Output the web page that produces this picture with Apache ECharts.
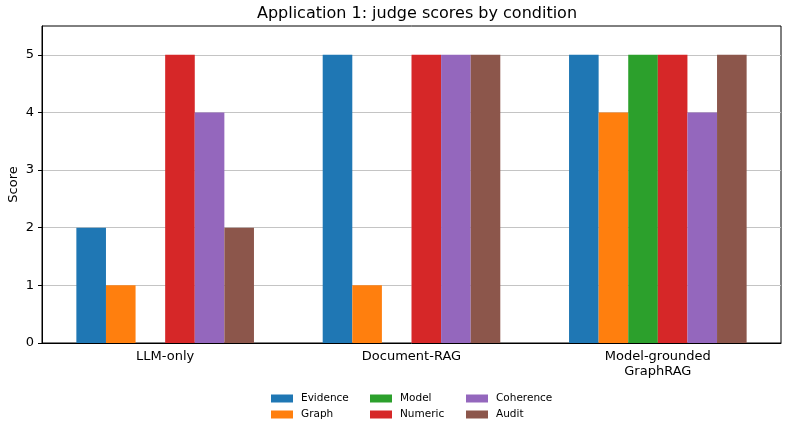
<!DOCTYPE html>
<html>
<head>
<meta charset="utf-8">
<script src="https://cdn.jsdelivr.net/npm/echarts@6/dist/echarts.min.js"></script>
<style>html,body{margin:0;padding:0;background:#fff;}#c{width:789px;height:426px;}</style>
</head>
<body>
<div id="c"></div>
<script>
const categories = ['LLM-only', 'Document-RAG', 'Model-grounded\nGraphRAG'];
const seriesNames = ['Evidence', 'Graph', 'Model', 'Numeric', 'Coherence', 'Audit'];
const evidence = [2, 5, 5];
const graph = [1, 1, 4];
const model = [0, 0, 5];
const numeric = [5, 5, 5];
const coherence = [4, 5, 4];
const audit = [2, 5, 5];
const yTicks = [0, 1, 2, 3, 4, 5];
const colors = ['#1f77b4', '#ff7f0e', '#2ca02c', '#d62728', '#9467bd', '#8c564b'];
const values = [evidence, graph, model, numeric, coherence, audit];

const font = 'DejaVu Sans';
const chart = echarts.init(document.getElementById('c'), null, {renderer: 'canvas'});
const legendCols = [[0, 1], [2, 3], [4, 5]];
const legendLefts = [271, 370, 466];
chart.setOption({
  animation: false,
  backgroundColor: '#fff',
  color: colors,
  textStyle: {fontFamily: font},
  title: {
    text: 'Application 1: judge scores by condition',
    left: 412, top: 1, textAlign: 'center',
    textStyle: {fontFamily: font, fontSize: 16, fontWeight: 'normal', color: '#000'}
  },
  legend: legendCols.map((idx, i) => ({
    data: idx.map(k => seriesNames[k]),
    orient: 'vertical',
    left: legendLefts[i], top: 393, padding: 0,
    itemWidth: 22, itemHeight: 8, itemGap: 5,
    icon: 'rect',
    textStyle: {fontFamily: font, fontSize: 10.5, color: '#000', padding: [0, 0, 0, 3]}
  })),
  grid: {left: 42, right: 8, top: 26, bottom: 83, show: true, borderColor: '#000', borderWidth: 1, containLabel: false, outerBoundsMode: 'none'},
  xAxis: {
    type: 'category',
    data: categories,
    axisLine: {lineStyle: {color: '#000', width: 1}},
    axisTick: {alignWithLabel: true, length: 4, lineStyle: {color: '#000'}},
    axisLabel: {fontFamily: font, fontSize: 13, color: '#000', margin: 6, lineHeight: 15}
  },
  yAxis: {
    type: 'value', min: 0, max: 5.5, interval: 1,
    name: 'Score', nameLocation: 'middle', nameGap: 22, nameMoveOverlap: false,
    nameTextStyle: {fontFamily: font, fontSize: 13, color: '#000'},
    axisLine: {show: true, lineStyle: {color: '#000', width: 1}},
    axisTick: {show: true, length: 4, lineStyle: {color: '#000'}, customValues: yTicks},
    axisLabel: {fontFamily: font, fontSize: 13, color: '#000', margin: 8, customValues: yTicks},
    splitLine: {show: true, lineStyle: {color: '#c4c4c4', width: 1}}
  },
  series: seriesNames.map((n, i) => ({
    name: n, type: 'bar', data: values[i],
    barWidth: 29.6, barGap: '0%', barCategoryGap: '28%',
    itemStyle: {color: colors[i]}
  }))
});
</script>
</body>
</html>
